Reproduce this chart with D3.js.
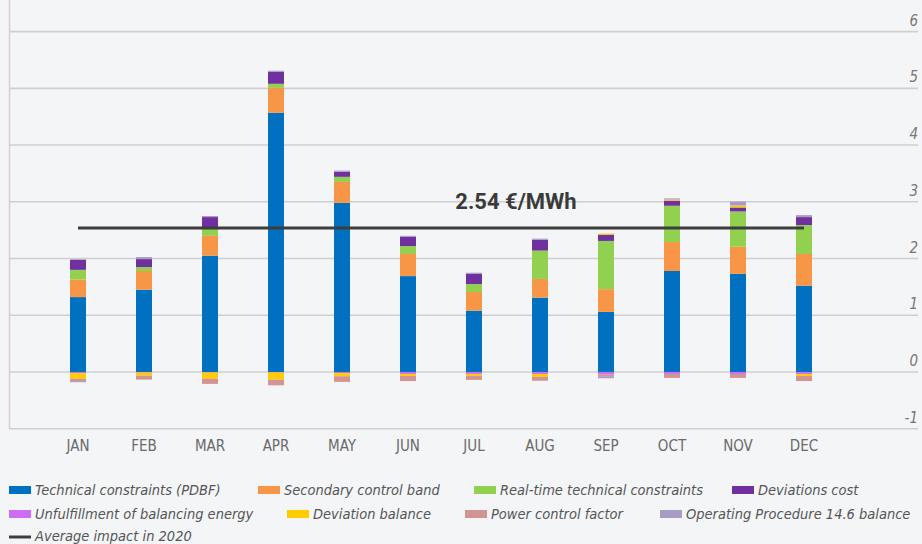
<!DOCTYPE html>
<html>
<head>
<meta charset="utf-8">
<script src="https://cdn.jsdelivr.net/npm/d3@7"></script>
<style>
  html, body { margin: 0; padding: 0; background: #f4f5f7; }
  svg { display: block; }
  .lbl { font-family: "Liberation Sans Narrow", "DejaVu Sans Condensed", Roboto, sans-serif; }
</style>
</head>
<body>
<svg id="chart" width="922" height="544"></svg>
<script>
var months = ["JAN","FEB","MAR","APR","MAY","JUN","JUL","AUG","SEP","OCT","NOV","DEC"];

// €/MWh per component
var technical        = [1.32, 1.45, 2.05, 4.57, 2.98, 1.69, 1.08, 1.31, 1.06, 1.78, 1.73, 1.52];
var secondary        = [0.31, 0.33, 0.35, 0.44, 0.37, 0.39, 0.33, 0.33, 0.40, 0.51, 0.48, 0.56];
var realtime         = [0.17, 0.07, 0.12, 0.07, 0.09, 0.14, 0.14, 0.50, 0.85, 0.64, 0.62, 0.51];
var deviationsCost   = [0.18, 0.14, 0.21, 0.21, 0.09, 0.16, 0.18, 0.19, 0.11, 0.09, 0.07, 0.14];
var unfulfillment    = [-0.02, -0.01, -0.01, -0.01, -0.02, -0.035, -0.035, -0.035, -0.04, -0.035, -0.035, -0.035];
var deviationBalance = [-0.10, -0.055, -0.11, -0.125, -0.055, -0.035, -0.035, -0.05, 0.02, 0.02, 0.035, -0.035];
var powerControl     = [-0.04, -0.07, -0.09, -0.10, -0.10, -0.09, -0.07, -0.07, -0.035, -0.07, -0.07, -0.09];
var opProcedure      = [-0.02, 0.035, 0.02, 0.02, 0.02, 0.02, 0.02, 0.02, -0.035, 0.02, 0.07, 0.035];

var average = 2.54;
var yTicks = [-1, 0, 1, 2, 3, 4, 5, 6];

var seriesNames = ["Technical constraints (PDBF)", "Secondary control band", "Real-time technical constraints",
                   "Deviations cost", "Unfulfillment of balancing energy", "Deviation balance",
                   "Power control factor", "Operating Procedure 14.6 balance"];
var seriesValues = [technical, secondary, realtime, deviationsCost, unfulfillment, deviationBalance, powerControl, opProcedure];
var colors = ["#0070c0", "#f79646", "#92d050", "#7030a0", "#cc6ef5", "#ffcc00", "#d39594", "#a89bc4"];

var rows = months.map(function(m, i){
	var r = {month: m};
	seriesNames.forEach(function(s, k){ r[s] = seriesValues[k][i]; });
	return r;
});

var svg = d3.select("#chart");

var x = d3.scaleBand().domain(months).range([45, 837]).paddingInner(0.7576).paddingOuter(0.3788);
var y = d3.scaleLinear().domain([-1, 6]).range([428.7, 31.6]);

// frame + grid
svg.append("line")
	.attr("x1", 9.5).attr("x2", 9.5).attr("y1", 0).attr("y2", y(-1))
	.attr("stroke", "#dccbdc").attr("stroke-width", 1.5);

svg.append("g").selectAll("line")
	.data(yTicks)
	.enter().append("line")
		.attr("x1", 9).attr("x2", 918)
		.attr("y1", function(d){ return y(d); })
		.attr("y2", function(d){ return y(d); })
		.attr("stroke", "#cfcfd1").attr("stroke-width", 1.6);

svg.append("g").selectAll("text")
	.data(yTicks)
	.enter().append("text")
		.attr("class", "lbl")
		.attr("x", 918).attr("y", function(d){ return y(d) - 6; })
		.attr("text-anchor", "end")
		.attr("font-size", 15).attr("font-style", "italic")
		.attr("fill", "#777")
		.text(function(d){ return d; });

// stacked bars
var stack = d3.stack().keys(seriesNames).offset(d3.stackOffsetDiverging);
var layers = stack(rows);

svg.append("g").selectAll("g")
	.data(layers)
	.enter().append("g")
		.attr("fill", function(d, i){ return colors[i]; })
	.selectAll("rect")
	.data(function(d){ return d; })
	.enter().append("rect")
		.attr("x", function(d){ return x(d.data.month); })
		.attr("width", x.bandwidth())
		.attr("y", function(d){ return y(Math.max(d[0], d[1])); })
		.attr("height", function(d){ return Math.abs(y(d[0]) - y(d[1])); });

// average line
svg.append("line")
	.attr("x1", x(months[0]) + x.bandwidth()/2)
	.attr("x2", x(months[11]) + x.bandwidth()/2)
	.attr("y1", y(average)).attr("y2", y(average))
	.attr("stroke", "#3d3d3d").attr("stroke-width", 3);

svg.append("text")
	.attr("x", 516).attr("y", y(average) - 19)
	.attr("text-anchor", "middle")
	.attr("font-family", "Roboto, sans-serif")
	.attr("font-weight", "bold").attr("font-size", 22)
	.attr("fill", "#3a3a3a")
	.text(average.toFixed(2) + " €/MWh");

// month labels
svg.append("g").selectAll("text")
	.data(months)
	.enter().append("text")
		.attr("class", "lbl")
		.attr("x", function(d){ return x(d) + x.bandwidth()/2; })
		.attr("y", 451)
		.attr("text-anchor", "middle")
		.attr("font-size", 15).attr("fill", "#6a6a6a")
		.text(function(d){ return d; });

// legend
var legendPos = [[9,490],[258,490],[474,490],[732,490],[9,514],[287,514],[465,514],[660,514]];
var leg = svg.append("g");
seriesNames.forEach(function(s, i){
	var p = legendPos[i];
	leg.append("rect").attr("x", p[0]).attr("y", p[1] - 4).attr("width", 22).attr("height", 8).attr("fill", colors[i]);
	leg.append("text").attr("class", "lbl")
		.attr("x", p[0] + 26).attr("y", p[1] + 5)
		.attr("font-size", 14.5).attr("font-style", "italic").attr("fill", "#555")
		.text(s);
});
leg.append("line").attr("x1", 9).attr("x2", 31).attr("y1", 537).attr("y2", 537)
	.attr("stroke", "#3d3d3d").attr("stroke-width", 3);
leg.append("text").attr("class", "lbl")
	.attr("x", 35).attr("y", 541)
	.attr("font-size", 14.5).attr("font-style", "italic").attr("fill", "#555")
	.text("Average impact in 2020");
</script>
</body>
</html>
